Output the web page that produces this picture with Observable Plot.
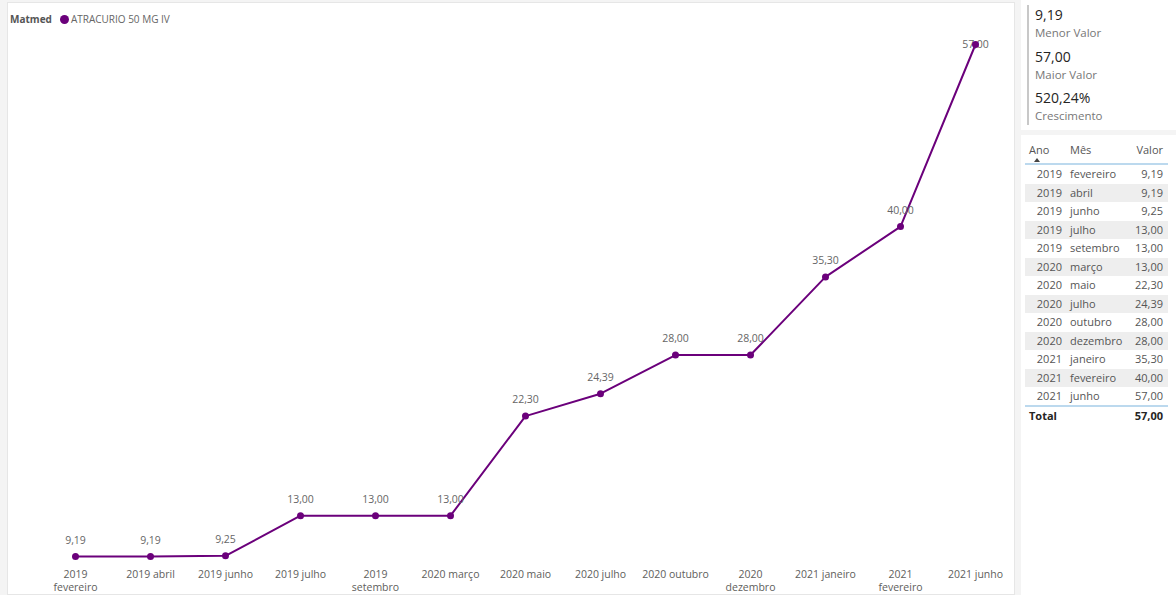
<!DOCTYPE html>
<html>
<head>
<meta charset="utf-8">
<script src="https://cdn.jsdelivr.net/npm/d3@7"></script>
<script src="https://cdn.jsdelivr.net/npm/@observablehq/plot@0.6"></script>
<style>
  html, body { margin: 0; padding: 0; }
  body { width: 1176px; height: 595px; background: #f4f4f4; position: relative; overflow: hidden;
         font-family: "Open Sans", "Segoe UI", sans-serif; }
  #chartPanel { position: absolute; left: 7px; top: 2px; width: 1008px; height: 593px; background: #fff;
                border: 1px solid #e6e6e6; box-sizing: border-box; }
  #chart { position: absolute; left: 7px; top: 0px; }
  #legend { position: absolute; left: 10px; top: 12px; font-size: 10px; color: #666; display: flex; align-items: center; }
  #legend b { color: #555; font-weight: 700; margin-right: 8px; }
  #legend .sw { width: 9px; height: 9px; border-radius: 50%; background: #6b007b; display: inline-block; margin-right: 2px; }
  #kpi { position: absolute; left: 1021px; top: 0; width: 155px; height: 130px; background: #fff; }
  #kpi .bar { position: absolute; left: 6px; top: 5px; width: 2px; height: 120px; background: #c8c8c8; }
  .kv { position: absolute; left: 14px; font-size: 14px; color: #252423; line-height: 18px; }
  .kl { position: absolute; left: 14px; font-size: 11.5px; color: #777; line-height: 16px; }
  #tbl { position: absolute; left: 1021px; top: 135px; width: 155px; height: 460px; background: #fff; font-size: 11px; color: #555; }
  .row { position: absolute; left: 4px; width: 143px; height: 18.5px; line-height: 18.5px; }
  .row.alt { background: #eeeeee; }
  .c1 { position: absolute; right: 106px; }
  .c2 { position: absolute; left: 45px; }
  .c3 { position: absolute; right: 5px; }
  .hdr { color: #555; }
  .line { position: absolute; left: 4px; width: 143px; height: 2px; background: #bcd9ee; }
</style>
</head>
<body>
<div id="chartPanel"></div>
<div id="chart"></div>
<div id="legend"><b>Matmed</b><span class="sw"></span><span id="serieName"></span></div>
<div id="kpi"><div class="bar"></div></div>
<div id="tbl"></div>
<script>
// ---- data ----
const serie = "ATRACURIO 50 MG IV";
const anos = ["2019","2019","2019","2019","2019","2020","2020","2020","2020","2020","2021","2021","2021"];
const meses = ["fevereiro","abril","junho","julho","setembro","março","maio","julho","outubro","dezembro","janeiro","fevereiro","junho"];
const valores = [9.19, 9.19, 9.25, 13.00, 13.00, 13.00, 22.30, 24.39, 28.00, 28.00, 35.30, 40.00, 57.00];
const tickLabels = ["2019\nfevereiro","2019 abril","2019 junho","2019 julho","2019\nsetembro","2020 março","2020 maio","2020 julho","2020 outubro","2020\ndezembro","2021 janeiro","2021\nfevereiro","2021 junho"];

const fmt = v => v.toFixed(2).replace(".", ",");
const data = valores.map((v, i) => ({label: tickLabels[i], ano: anos[i], mes: meses[i], valor: v}));
const minV = d3.min(valores), maxV = d3.max(valores);
const purple = "#6b007b";

document.getElementById("serieName").textContent = serie;

const chart = Plot.plot({
  width: 1008,
  height: 595,
  marginLeft: 66,
  marginRight: 39,
  marginTop: 44,
  marginBottom: 39,
  style: {fontFamily: "'Open Sans', sans-serif", fontSize: "10.5px", background: "transparent", overflow: "visible"},
  x: {type: "point", domain: tickLabels, padding: 0, label: null},
  y: {domain: d3.extent(valores), axis: null},
  marks: [
    Plot.axisX({tickSize: 0, tickPadding: 13, color: "#605e5c", fontSize: 10.5, lineHeight: 1.2, label: null}),
    Plot.line(data, {x: "label", y: "valor", stroke: purple, strokeWidth: 2}),
    Plot.text(data.filter(d => d.valor !== maxV), {x: "label", y: "valor", text: d => fmt(d.valor), dy: -16, fill: "#666", fontSize: 10.5}),
    Plot.text(data.filter(d => d.valor === maxV), {x: "label", y: "valor", text: d => fmt(d.valor), dy: 0, fill: "#666", fontSize: 10.5}),
    Plot.dot(data, {x: "label", y: "valor", r: 3.5, fill: purple})
  ]
});
document.getElementById("chart").appendChild(chart);

// ---- KPI card ----
const kpi = document.getElementById("kpi");
const cresc = (maxV / minV - 1) * 100;
const kpis = [[fmt(minV), "Menor Valor"], [fmt(maxV), "Maior Valor"], [fmt(cresc) + "%", "Crescimento"]];
kpis.forEach(([v, l], i) => {
  const a = document.createElement("div"); a.className = "kv"; a.style.top = (6 + i * 41.5) + "px"; a.textContent = v; kpi.appendChild(a);
  const b = document.createElement("div"); b.className = "kl"; b.style.top = (25 + i * 41.5) + "px"; b.textContent = l; kpi.appendChild(b);
});

// ---- table ----
const tbl = document.getElementById("tbl");
function addRow(top, cells, cls, bold) {
  const r = document.createElement("div");
  r.className = "row " + (cls || "");
  r.style.top = top + "px";
  cells.forEach((t, j) => {
    const s = document.createElement("span");
    s.className = "c" + (j + 1);
    s.textContent = t;
    if (bold) { s.style.fontWeight = "700"; s.style.color = "#252423"; }
    r.appendChild(s);
  });
  tbl.appendChild(r);
  return r;
}
const h = addRow(6, ["", "Mês", "Valor"], "hdr");
const ano = document.createElement("span"); ano.textContent = "Ano"; ano.style.position = "absolute"; ano.style.left = "4px"; h.appendChild(ano);
const arrow = document.createElement("div");
arrow.style.cssText = "position:absolute;left:9px;top:17px;width:0;height:0;border-left:3px solid transparent;border-right:3px solid transparent;border-bottom:4px solid #444;";
h.appendChild(arrow);
const l1 = document.createElement("div"); l1.className = "line"; l1.style.top = "28px"; tbl.appendChild(l1);
data.forEach((d, i) => addRow(30 + i * 18.5, [d.ano, d.mes, fmt(d.valor)], i % 2 ? "alt" : ""));
const l2 = document.createElement("div"); l2.className = "line"; l2.style.top = (30 + 13 * 18.5 - 1) + "px"; tbl.appendChild(l2);
const tot = addRow(30 + 13 * 18.5 + 1, ["", "", fmt(valores[valores.length - 1])], "", true);
const tt = document.createElement("span"); tt.textContent = "Total"; tt.style.cssText = "position:absolute;left:4px;font-weight:700;color:#252423;"; tot.appendChild(tt);
</script>
</body>
</html>
